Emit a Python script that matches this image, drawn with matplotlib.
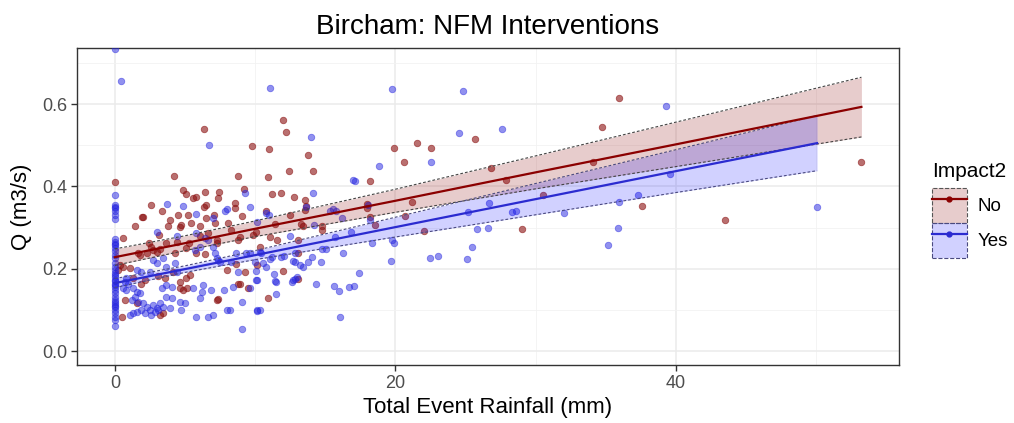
import matplotlib
matplotlib.use("Agg")
import matplotlib.pyplot as plt
import numpy as np
from matplotlib.patches import Patch
from matplotlib.lines import Line2D
from matplotlib.legend_handler import HandlerTuple

plt.rcParams['font.family'] = ['Liberation Sans', 'DejaVu Sans']

# event rainfall (mm) and peak flow (m3/s), events without interventions
no_x = [0.00, 6.34, 9.76, 4.20, 8.80, 4.87, 5.04, 5.58, 5.82, 6.44, 7.39, 7.32, 9.19, 2.61, 8.55, 6.34, 6.53,
        12.02, 12.17, 11.00, 13.76, 19.91, 20.62, 12.38, 14.14, 10.90, 18.20, 11.17, 11.85, 12.78, 13.59,
        35.95, 25.68, 34.73, 21.52, 22.57, 26.85, 27.87, 34.07, 21.15, 30.53, 37.56, 20.65, 22.05, 29.03,
        43.48, 53.22,
        10.74, 12.47, 13.54, 13.66, 17.98, 17.98, 18.17, 18.53, 11.40, 13.30, 13.38, 14.80, 14.78, 10.05,
        11.05, 11.57, 13.07, 10.33, 13.07, 10.14, 12.00, 13.07, 10.93,
        2.02, 1.43, 0.59, 3.33, 3.92, 4.51, 4.63, 4.75, 3.80, 3.16, 5.22, 5.46, 6.06, 6.53, 7.08, 7.13,
        6.06, 6.65, 7.25, 7.29, 8.08, 8.27, 8.60, 9.03, 8.91, 8.79, 9.86, 2.44, 2.61, 2.73, 2.97, 3.21,
        2.26, 1.66, 1.78, 3.68, 4.40, 4.28, 5.10, 5.30, 5.82, 6.41, 0.59, 0.36, 1.07, 0.24, 1.31, 2.14,
        1.90, 3.09, 3.56, 4.16, 4.63, 5.10, 5.35, 4.87, 5.15, 4.63, 7.96, 8.67, 9.27, 8.79, 9.50, 7.25,
        7.37, 0.71, 1.55, 0.48, 3.21, 8.91, 1.95, 3.40]
no_q = [0.411, 0.539, 0.499, 0.426, 0.424, 0.391, 0.381, 0.371, 0.375, 0.386, 0.387, 0.372, 0.394, 0.355, 0.359, 0.351, 0.355,
        0.561, 0.533, 0.490, 0.476, 0.493, 0.459, 0.438, 0.437, 0.423, 0.413, 0.381, 0.384, 0.373, 0.368,
        0.615, 0.516, 0.544, 0.505, 0.493, 0.445, 0.416, 0.459, 0.362, 0.378, 0.352, 0.328, 0.292, 0.297,
        0.318, 0.459,
        0.341, 0.331, 0.343, 0.352, 0.347, 0.356, 0.326, 0.306, 0.308, 0.309, 0.304, 0.304, 0.294, 0.290,
        0.278, 0.270, 0.270, 0.253, 0.237, 0.209, 0.195, 0.175, 0.130,
        0.326, 0.304, 0.274, 0.339, 0.318, 0.331, 0.302, 0.306, 0.304, 0.282, 0.331, 0.312, 0.304, 0.322, 0.331, 0.310,
        0.279, 0.286, 0.270, 0.262, 0.310, 0.294, 0.347, 0.328, 0.278, 0.270, 0.282, 0.262, 0.253, 0.245, 0.241, 0.247,
        0.237, 0.237, 0.233, 0.262, 0.266, 0.237, 0.250, 0.262, 0.237, 0.236, 0.205, 0.209, 0.201, 0.197, 0.177, 0.173,
        0.164, 0.182, 0.177, 0.193, 0.168, 0.177, 0.185, 0.148, 0.152, 0.152, 0.197, 0.211, 0.193, 0.163, 0.152, 0.124,
        0.127, 0.124, 0.116, 0.083, 0.087, 0.164, 0.325, 0.092]

# events with interventions
yes_x = [0.00, 0.43, 6.72, 9.31, 0.00, 0.00, 3.75, 4.87, 9.60,
         11.05, 19.79, 13.98, 18.82, 17.00, 17.13, 14.16, 13.66,
         24.85, 24.54, 27.63, 22.55, 26.66, 25.14, 28.32, 28.60, 32.00, 35.92, 37.32, 25.80, 26.63, 35.90,
         25.45, 35.12, 22.50, 23.07, 25.09, 39.32, 39.58, 50.06,
         10.81, 11.00, 15.32, 15.56, 15.75, 18.05, 18.17, 14.20, 16.16, 16.87, 12.47, 15.68, 18.30, 19.79,
         19.90, 10.33, 10.45, 9.62, 12.83, 14.80, 15.04, 16.23, 14.02, 11.05, 11.17, 11.88, 12.07, 12.67,
         12.83, 13.78, 13.19, 13.42, 14.73, 19.72, 10.57, 10.81, 10.03, 17.39, 11.36, 11.40, 11.48, 10.05,
         12.60, 12.71, 12.83, 12.95, 14.37, 15.63, 15.97, 16.68, 17.03, 11.48, 10.14, 10.33, 16.04, 9.62, 9.03,
         0, 0, 0, 0, 0, 0, 0, 0, 0, 0, 0, 0, 0, 0, 0, 0, 0, 0, 0, 0, 0, 0, 0, 0, 0, 0, 0, 0,
         0, 0, 0, 0, 0, 0, 0, 0, 0,
         5.82, 7.84, 7.96, 7.00, 10.10, 6.41, 6.65, 6.06, 5.70, 7.13, 7.37, 7.48, 7.25, 8.31, 8.67, 9.38,
         8.79, 9.98, 10.10, 2.73, 2.97, 3.44, 3.68, 4.28, 4.40, 2.49, 1.55, 1.90, 0.83, 0.71, 0.95, 0.59,
         0.83, 1.31, 1.55, 1.78, 1.43, 1.19, 1.66, 2.02, 2.26, 1.90, 2.14, 1.31, 1.07, 1.55, 2.49, 2.73,
         2.97, 3.09, 3.21, 2.61, 2.85, 3.44, 3.68, 3.92, 4.04, 3.33, 3.68, 4.04, 4.63, 4.75, 4.99, 5.82,
         6.65, 7.00, 7.96, 8.20, 6.06, 6.18, 6.89, 5.58, 6.29, 7.77, 8.43, 9.03, 10.10,
         5.82, 7.00, 4.40, 3.00]
yes_q = [0.733, 0.657, 0.500, 0.385, 0.379, 0.351, 0.357, 0.353, 0.351,
         0.639, 0.636, 0.520, 0.450, 0.416, 0.412, 0.385, 0.351,
         0.631, 0.530, 0.539, 0.458, 0.360, 0.338, 0.338, 0.341, 0.336, 0.363, 0.378, 0.297, 0.300, 0.300,
         0.253, 0.258, 0.226, 0.230, 0.224, 0.596, 0.430, 0.349,
         0.335, 0.331, 0.340, 0.344, 0.339, 0.355, 0.318, 0.306, 0.322, 0.290, 0.279, 0.278, 0.263, 0.270,
         0.262, 0.241, 0.237, 0.237, 0.237, 0.247, 0.247, 0.237, 0.229, 0.223, 0.228, 0.229, 0.232, 0.219,
         0.217, 0.216, 0.209, 0.205, 0.216, 0.219, 0.213, 0.205, 0.194, 0.190, 0.187, 0.171, 0.167, 0.173,
         0.168, 0.173, 0.176, 0.181, 0.164, 0.158, 0.147, 0.156, 0.158, 0.138, 0.097, 0.100, 0.083, 0.152, 0.053,
         0.355, 0.347, 0.320, 0.271, 0.266, 0.258, 0.250, 0.242, 0.233, 0.213, 0.205, 0.197, 0.189, 0.180,
         0.172, 0.164, 0.156, 0.148, 0.140, 0.132, 0.124, 0.115, 0.107, 0.100, 0.092, 0.083, 0.075, 0.061,
         0.340, 0.330, 0.260, 0.225, 0.185, 0.170, 0.160, 0.120, 0.110,
         0.333, 0.339, 0.344, 0.322, 0.314, 0.274, 0.270, 0.253, 0.245, 0.237, 0.221, 0.217, 0.225, 0.217, 0.237, 0.237,
         0.193, 0.217, 0.173, 0.221, 0.213, 0.225, 0.205, 0.213, 0.193, 0.193, 0.197, 0.193, 0.177, 0.168, 0.164, 0.152,
         0.148, 0.152, 0.144, 0.140, 0.132, 0.124, 0.120, 0.116, 0.108, 0.100, 0.092, 0.092, 0.087, 0.096, 0.100, 0.112,
         0.104, 0.100, 0.116, 0.087, 0.096, 0.108, 0.132, 0.104, 0.128, 0.152, 0.160, 0.156, 0.120, 0.100, 0.116, 0.083,
         0.082, 0.087, 0.100, 0.100, 0.128, 0.144, 0.148, 0.152, 0.160, 0.148, 0.156, 0.120, 0.100,
         0.286, 0.253, 0.280, 0.290]

# linear fits with 95% confidence bands
fit_no_x = [0, 5, 10, 20, 30, 40, 53.22]
fit_no = [0.228, 0.262, 0.297, 0.365, 0.434, 0.502, 0.593]
fit_no_lo = [0.208, 0.244, 0.278, 0.337, 0.394, 0.448, 0.520]
fit_no_hi = [0.248, 0.280, 0.316, 0.393, 0.474, 0.556, 0.665]

fit_yes_x = [0, 5, 10, 20, 30, 40, 50.06]
fit_yes = [0.165, 0.199, 0.233, 0.301, 0.369, 0.437, 0.505]
fit_yes_lo = [0.154, 0.191, 0.222, 0.277, 0.331, 0.385, 0.438]
fit_yes_hi = [0.176, 0.207, 0.244, 0.325, 0.407, 0.489, 0.572]

red = '#8B1010'
blue = '#2525E0'

fig = plt.figure(figsize=(10.14, 4.23), dpi=100)
ax = fig.add_axes([0.0759, 0.137, 0.8107, 0.7495])

ax.scatter(no_x, no_q, s=22, color=red, alpha=0.6, linewidths=0.6, zorder=3)
ax.scatter(yes_x, yes_q, s=22, color=blue, alpha=0.5, linewidths=0.6, zorder=3)

ax.fill_between(fit_no_x, fit_no_lo, fit_no_hi, color='#8B0000', alpha=0.2, lw=0, zorder=4)
ax.plot(fit_no_x, fit_no_lo, color='#444444', ls=(0, (2.5, 1.8)), lw=0.8, zorder=5)
ax.plot(fit_no_x, fit_no_hi, color='#444444', ls=(0, (2.5, 1.8)), lw=0.8, zorder=5)
ax.plot(fit_no_x, fit_no, color='#8B0000', lw=1.6, zorder=6)

ax.fill_between(fit_yes_x, fit_yes_lo, fit_yes_hi, color='#0000FF', alpha=0.18, lw=0, zorder=4)
ax.plot(fit_yes_x, fit_yes_lo, color='#4A4A80', ls=(0, (2.5, 1.8)), lw=0.8, zorder=5)
ax.plot(fit_yes_x, fit_yes_hi, color='#4A4A80', ls=(0, (2.5, 1.8)), lw=0.8, zorder=5)
ax.plot(fit_yes_x, fit_yes, color='#2B2BD0', lw=1.6, zorder=6)

ax.set_xlim(-2.7, 55.9)
ax.set_ylim(-0.034, 0.736)
ax.set_xticks([0, 20, 40])
ax.set_yticks([0.0, 0.2, 0.4, 0.6])
ax.set_yticklabels(['0.0', '0.2', '0.4', '0.6'])
ax.set_xticks([10, 30, 50], minor=True)
ax.set_yticks([0.1, 0.3, 0.5, 0.7], minor=True)
ax.grid(which='major', color='#EBEBEB', lw=1.1, zorder=0)
ax.grid(which='minor', color='#F2F2F2', lw=0.6, zorder=0)
ax.set_axisbelow(True)
ax.tick_params(which='major', length=4, width=1, color='#333333', labelcolor='#4D4D4D',
               labelsize=13, pad=3)
ax.tick_params(which='minor', length=0)
for sp in ax.spines.values():
    sp.set_color('#333333')
    sp.set_linewidth(1.0)

ax.set_title('Bircham: NFM Interventions', fontsize=20, pad=10)
ax.set_xlabel('Total Event Rainfall (mm)', fontsize=16, labelpad=4)
ax.set_ylabel('Q (m3/s)', fontsize=16, labelpad=7)

handles = [
    (Patch(facecolor='#8B0000', alpha=0.2, edgecolor='none'),
     Patch(facecolor='none', edgecolor='#555555', ls='--', lw=0.8),
     Line2D([], [], color='#8B0000', lw=1.6, marker='o', ms=3.5)),
    (Patch(facecolor='#0000FF', alpha=0.18, edgecolor='none'),
     Patch(facecolor='none', edgecolor='#4A4A80', ls='--', lw=0.8),
     Line2D([], [], color='#2B2BD0', lw=1.6, marker='o', ms=3.5)),
]
leg = fig.legend(handles, ['No', 'Yes'], handler_map={tuple: HandlerTuple(ndivide=1)},
                 loc='upper left', bbox_to_anchor=(0.919, 0.618), frameon=False,
                 title='Impact2', title_fontsize=15, fontsize=13.5, numpoints=1,
                 handlelength=1.85, handleheight=2.5, labelspacing=0.0, handletextpad=0.6,
                 borderpad=0, borderaxespad=0)
leg._legend_box.align = 'left'
leg._legend_box.sep = 5

fig.savefig('out.png', dpi=100)
